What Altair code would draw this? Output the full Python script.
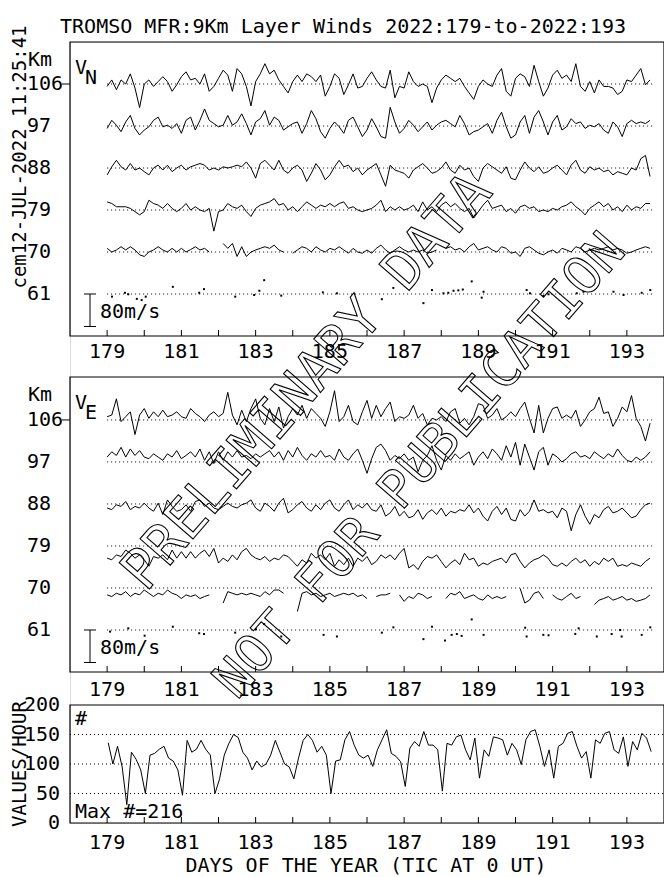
import altair as alt
import pandas as pd

# ---------------- data ----------------
START_DAY = 179.0
STEP_DAYS = 0.125          # 3-hour samples
KM_PER_MS = 0.087          # 80 m/s scale bar in km of the height axis
LEVELS = [106, 97, 88, 79, 70]

# V_N (m/s) per layer
vn106 = [-6,10,-14,10,0,25,-10,-58,0,10, -6,6,18,6,-18,-2,18,30,10,14,
         0,25,-18,-6,14,34,22,-18,38,25, -6,-54,6,25,50,25,34,10,-6,-22,
         6,22,6,25,18,6,22,-30,-6,25, 14,-26,-2,25,-10,-6,14,30,10,-6,
         -10,34,-34,-6,-10,30,6,-6,0,-6, -46,-10,10,22,14,6,14,-6,-22,-38,
         -6,10,0,-6,22,38,-18,-30,14,25, 18,-6,46,6,-30,-10,22,34,14,22,
         6,50,-6,-18,6,-22,10,-6,-6,-10, -26,-18,10,6,22,38,-2,10]
vn97 = [-6,14,2,-14,10,26,-6,-22,-10,-2, 14,22,-2,2,-6,6,-18,14,22,-10,
        14,42,14,6,-2,2,26,2,10,30, 6,-22,10,18,38,2,22,14,-10,-2,
        6,10,-18,6,38,18,-14,-30,-6,10, -2,-18,14,22,-2,-26,-10,18,-2,-26,
        -30,46,10,-18,-6,14,2,-14,-2,10, -10,2,10,14,6,-2,26,6,-22,-14,
        -10,-2,6,-18,14,34,-2,-30,-22,10, 26,-18,22,38,10,-22,10,26,-10,-2,
        18,6,10,-6,2,-2,6,-10,-18,10, -2,-26,6,14,6,10,6,14]
vn88 = [-17,3,19,3,-5,11,-5,0,-9,-17, 0,7,-5,7,-9,0,7,-5,3,7,
        11,7,-5,0,-5,3,0,3,7,3, 15,0,-25,11,19,7,-5,19,-5,-13,
        0,7,-5,-33,-13,11,-5,-29,-17,3, 19,3,7,-9,0,-17,-5,3,11,-17,
        -45,7,-5,-9,-13,-25,-5,3,11,0, -13,-9,0,15,-5,-13,7,-5,0,-21,
        -33,0,11,3,-5,-13,3,-25,-29,-5, 15,0,-9,3,-13,-9,0,7,-5,-17,
        7,19,-5,-13,3,-5,0,-9,-5,-17, -9,-13,-17,0,-5,23,31,-21]
vn79 = [20,16,8,8,8,4,-4,-12,-4,24, 16,12,4,16,4,-4,4,16,0,8,
        0,-4,4,-52,-4,0,16,8,4,12, -4,-16,4,12,16,20,28,12,16,0,
        8,-4,8,20,12,4,12,8,16,8, 16,20,4,8,0,-4,0,4,12,24,
        -4,8,0,8,0,4,12,-4,20,0, 8,-4,12,20,8,16,4,-4,4,-20,
        -4,12,24,4,8,12,-4,4,-8,8, 12,4,8,-4,0,-4,4,0,8,12,
        20,8,0,-12,4,12,20,8,16,0, 8,-4,12,0,8,4,16,16]
vn70 = [9,0,5,13,5,13,5,-7,-11,0, 5,13,5,0,9,0,9,0,6,13,
        5,9,0,None,None,21,9,21,-11,13, -11,0,5,9,13,9,17,5,0,None,
        -3,5,13,9,0,13,5,0,9,5, 13,5,-3,9,0,-3,5,-3,9,17,
        5,-3,5,13,5,0,5,0,5,-3, 0,5,None,9,13,5,9,0,13,21,
        5,9,13,5,0,13,9,-3,0,-11, 9,13,5,-3,-7,0,5,-3,9,5,
        0,13,9,0,5,9,5,9,13,5, 9,5,-3,0,5,9,13,9]

# V_E (m/s) per layer
ve106 = [8,12,52,-4,8,20,-36,12,28,4, 20,8,24,8,12,20,8,4,28,16,
         8,-4,12,20,8,16,68,12,-12,24, -4,28,52,4,-12,28,-4,32,-20,8,
         28,12,36,4,28,16,4,-16,20,72, -4,8,36,-4,-12,20,48,4,36,8,
         28,44,-4,8,4,12,36,4,16,-12, 4,0,8,-4,20,28,-8,4,-12,8,
         40,36,4,12,28,0,8,20,8,28, 44,4,-32,36,-32,4,28,32,4,12,
         4,24,-16,0,20,28,56,16,20,-16, 4,32,20,60,4,-16,-52,-8]
ve97 = [12,25,16,36,12,32,16,28,12,8, 20,12,4,20,12,28,8,16,25,12,
        32,4,25,-4,25,4,25,12,28,12, 16,8,20,12,20,28,12,25,4,28,
        12,36,16,4,20,12,28,12,16,4, 32,12,4,20,32,4,-28,8,36,44,
        28,4,16,8,20,4,12,-24,4,16, 40,4,-20,16,4,20,8,16,25,-8,
        12,25,8,32,20,4,40,12,48,-8, 44,12,-20,25,36,-8,20,12,0,8,
        20,25,12,16,8,25,16,8,20,12, 32,16,4,0,12,4,12,25]
ve88 = [-10,-14,-2,-6,6,-14,-6,-10,2,-10, -18,2,-26,10,-6,-18,-14,-2,-18,6,
        10,-6,2,-10,-14,-6,2,-6,-10,-2, 2,10,-10,-18,2,-6,-18,2,14,-22,
        -14,-2,6,-10,-18,-2,-14,2,10,-10, -18,-2,10,-14,-2,-10,2,-14,-18,-2,
        -30,-22,-6,-30,-18,-34,-30,-14,-38,-22, -14,-26,-10,-30,-18,-22,-14,-18,-2,-22,
        -10,-30,-42,-18,-6,-26,-10,-38,-42,-14, -30,-18,10,-18,-14,-22,-18,-34,-10,-18,
        -66,-26,-2,-30,-50,-26,-34,-14,-6,-22, -18,-10,-22,-34,-30,-14,-2,2]
ve79 = [-30,-34,-22,-26,-10,-18,-30,-22,-34,-50, -26,-30,-22,-34,-10,-30,-14,-30,-14,-30,
        -18,-10,-26,-6,-42,-30,-38,-22,-34,-14, -6,-22,-30,-34,-26,-38,-30,-34,-22,-26,
        -38,-50,-34,-42,-18,-30,-22,-34,-18,-50, -34,-46,-30,-50,-30,-38,-26,-46,-38,-22,
        -30,-22,-34,-18,-6,-54,-46,-58,-38,-26, -30,-22,-38,-54,-42,-34,-46,-18,-34,-30,
        -50,-42,-46,-38,-34,-30,-42,-22,-18,-38, -54,-42,-34,-30,-22,-30,-46,-50,-42,-50,
        -38,-30,-42,-34,-50,-38,-46,-30,-38,-30, -50,-46,-50,-42,-46,-50,-38,-30]
ve70 = [-17,-21,-13,-17,-9,-21,-13,-17,-5,-13, -21,-13,-17,-5,-13,-17,-26,-17,-21,-17,
        -26,-21,-17,None,None,-37,-9,-13,-17,-13, -17,-13,-17,-21,-9,-17,-5,-5,-13,None,
        None,-58,-13,-9,-17,-13,-21,-17,-13,-21, -17,-13,-17,-13,-21,-17,-26,None,-21,-17,
        -17,-13,None,-17,-33,-21,-26,-13,-17,-26, -21,None,None,-26,-13,-17,-9,-26,-21,-17,
        -26,-30,-17,-26,-21,-26,-21,None,None,-1, -37,-30,-13,-9,-26,None,-17,-26,-30,-21,
        -13,-26,-21,None,None,-41,-30,-26,-21,-30, -26,-21,-30,-26,-33,-30,-26,-17]

# isolated 61 km values (day, m/s)
vn61_days = [179.13,179.48,179.57,179.80,179.93,180.04,180.77,181.48,181.61,182.45,182.96,183.10,
             183.23,183.69,184.81,185.19,186.40,186.71,187.52,187.75,188.06,188.19,188.33,188.46,
             188.58,188.82,189.09,189.14,190.30,190.39,190.75,190.89,191.65,191.83,192.64,192.91,
             193.40,193.63]
vn61_vals = [-6.5,3,-0.7,-12,-15,-6.5,17.7,3,12,-6.5,-2.4,8,34,-4,4,1.7,-12.8,15,-22.5,9.7,1.7,3,
             8,9,11,31,-9,5.6,9.7,1.7,-4.8,-0.7,1.7,5.6,5.6,-2.4,3,9.7]
ve61_days = [179.08,179.57,180.01,180.77,181.48,181.61,182.45,183.01,183.23,183.69,184.83,185.19,
             186.40,186.71,187.52,187.75,188.10,188.28,188.42,188.55,188.82,189.14,190.26,190.30,
             190.75,190.89,191.61,191.70,192.19,192.59,192.82,192.86,193.40,193.63]
ve61_vals = [-4,4,-14,8,-8,-10,-6.5,1.7,14.5,-16,-12,-16,-6.5,6.5,-22.5,8,-26,-12,-10,-14.5,26,
             -12,5.6,-16,-12,-13,-9.7,4,-16,-10,0,-16,-12,6.5]

# values per hour
counts = [136,100,130,95,31,120,108,90,50,115, 118,125,130,110,105,90,47,140,120,125,
          140,125,115,50,75,115,135,150,145,120, 110,90,105,95,100,115,140,120,100,95,
          75,110,140,150,140,120,130,115,50,105, 107,141,155,132,115,110,115,96,124,141,
          158,118,113,104,62,127,138,130,155,132, 132,124,54,135,132,146,149,124,107,144,
          76,124,113,146,144,141,115,135,124,99, 141,155,158,130,96,124,76,130,135,152,
          155,130,110,121,76,141,135,152,155,124, 118,146,96,138,124,152,144,121]

tick_days = list(range(179, 194))
label_days = [179, 181, 183, 185, 187, 189, 191, 193]
km_labels = [106, 97, 88, 79, 70, 61]
count_levels = [50, 100, 150]
count_labels = [200, 150, 100, 50, 0]
DAY_DOMAIN = [178, 194]
KM_DOMAIN_TOP = [52, 115]
KM_DOMAIN_MID = [52, 115.2]
COUNT_DOMAIN = [0, 200]
BASE_END = 193.7
SCALE_BAR_MS = 80

FONT = "DejaVu Sans Mono"

# ---------------- build tables ----------------
def series_frame(lists):
    rows = []
    for lev, vals in zip(LEVELS, lists):
        seg = 0
        for k, v in enumerate(vals):
            if v is None:
                seg += 1
                continue
            rows.append({"day": START_DAY + k * STEP_DAYS,
                         "km": lev + v * KM_PER_MS,
                         "seg": f"{lev}-{seg}"})
    return pd.DataFrame(rows)

vn_df = series_frame([vn106, vn97, vn88, vn79, vn70])
ve_df = series_frame([ve106, ve97, ve88, ve79, ve70])
vn_dots = pd.DataFrame({"day": vn61_days, "km": [61 + v * KM_PER_MS for v in vn61_vals]})
ve_dots = pd.DataFrame({"day": ve61_days, "km": [61 + v * KM_PER_MS for v in ve61_vals]})
count_df = pd.DataFrame({"day": [START_DAY + 0.03 + k * STEP_DAYS for k in range(len(counts))],
                         "n": counts})

x_scale = alt.Scale(domain=DAY_DOMAIN, nice=False, zero=False)
X = lambda f="day": alt.X(f"{f}:Q", scale=x_scale, axis=None)


def text_layer(txt, x, y, size=20, align="left", angle=0, weight="normal", baseline="middle"):
    return alt.Chart(pd.DataFrame({"t": [txt]})).mark_text(
        font=FONT, fontSize=size, align=align, baseline=baseline, angle=angle,
        fontWeight=weight, color="black"
    ).encode(x=alt.value(x), y=alt.value(y), text="t:N")


def wind_panel(df, dots, km_domain, rng, comp, label_y, sub_dy):
    ysc = alt.Scale(domain=km_domain, range=rng, nice=False, zero=False)
    Y = lambda f: alt.Y(f"{f}:Q", scale=ysc, axis=None)
    top_px, bot_px = rng[1], rng[0]
    layers = []
    frame = pd.DataFrame({"x0": [DAY_DOMAIN[0]], "x1": [DAY_DOMAIN[1]],
                          "y0": [km_domain[0]], "y1": [km_domain[1]]})
    layers.append(alt.Chart(frame).mark_rect(fillOpacity=0, stroke="black", strokeWidth=1.2)
                  .encode(x=X("x0"), x2="x1:Q", y=Y("y0"), y2="y1:Q"))
    base = pd.DataFrame({"km": km_labels, "d0": START_DAY, "d1": BASE_END})
    layers.append(alt.Chart(base).mark_rule(strokeDash=[1, 3], strokeWidth=1, color="black")
                  .encode(x=X("d0"), x2="d1:Q", y=Y("km")))
    layers.append(alt.Chart(df).mark_line(strokeWidth=1, color="black")
                  .encode(x=X(), y=Y("km"), detail="seg:N", order="day:Q"))
    layers.append(alt.Chart(dots).mark_square(size=4, color="black", opacity=1)
                  .encode(x=X(), y=Y("km")))
    # y labels
    layers.append(alt.Chart(pd.DataFrame({"km": km_labels})).mark_text(
        font=FONT, fontSize=20, align="left", baseline="middle", color="black")
        .encode(x=alt.value(-43), y=Y("km"), text="km:Q"))
    layers.append(alt.Chart(pd.DataFrame({"km": [106]})).mark_rule(color="black")
                  .encode(x=alt.value(-8), x2=alt.value(0), y=Y("km")))
    layers.append(text_layer("Km", -42, top_px + 18))
    layers.append(text_layer("V", 5, top_px + 26))
    layers.append(text_layer(comp, 15, top_px + 26 + sub_dy))
    # scale bar
    bar = pd.DataFrame({"a": [61], "b": [61 - SCALE_BAR_MS * KM_PER_MS]})
    layers.append(alt.Chart(bar).mark_rule(color="black")
                  .encode(x=alt.value(20), y=Y("a"), y2="b:Q"))
    layers.append(alt.Chart(bar).mark_rule(color="black")
                  .encode(x=alt.value(14), x2=alt.value(26), y=Y("a")))
    layers.append(alt.Chart(bar).mark_rule(color="black")
                  .encode(x=alt.value(14), x2=alt.value(26), y=Y("b")))
    layers.append(text_layer(f"{SCALE_BAR_MS}m/s", 30, bot_px - 24))
    # x ticks + labels
    layers.append(alt.Chart(pd.DataFrame({"day": tick_days})).mark_rule(color="black")
                  .encode(x=X(), y=alt.value(bot_px - 6), y2=alt.value(bot_px)))
    layers.append(alt.Chart(pd.DataFrame({"day": label_days})).mark_text(
        font=FONT, fontSize=20, align="center", baseline="middle", color="black")
        .encode(x=X(), y=alt.value(label_y), text="day:Q"))
    return layers


layers = []
layers += wind_panel(vn_df, vn_dots, KM_DOMAIN_TOP, [294, 0], "N", 310, 10)
layers += wind_panel(ve_df, ve_dots, KM_DOMAIN_MID, [630, 335], "E", 648, 10)

# bottom panel
csc = alt.Scale(domain=COUNT_DOMAIN, range=[781, 663], nice=False, zero=False)
CY = lambda f: alt.Y(f"{f}:Q", scale=csc, axis=None)
cframe = pd.DataFrame({"x0": [DAY_DOMAIN[0]], "x1": [DAY_DOMAIN[1]],
                       "y0": [COUNT_DOMAIN[0]], "y1": [COUNT_DOMAIN[1]]})
layers.append(alt.Chart(cframe).mark_rect(fillOpacity=0, stroke="black", strokeWidth=1.2)
              .encode(x=X("x0"), x2="x1:Q", y=CY("y0"), y2="y1:Q"))
layers.append(alt.Chart(pd.DataFrame({"n": count_levels, "d0": DAY_DOMAIN[0], "d1": DAY_DOMAIN[1]}))
              .mark_rule(strokeDash=[1, 3], color="black")
              .encode(x=X("d0"), x2="d1:Q", y=CY("n")))
layers.append(alt.Chart(count_df).mark_line(strokeWidth=1, color="black")
              .encode(x=X(), y=CY("n")))
layers.append(alt.Chart(pd.DataFrame({"n": count_labels})).mark_text(
    font=FONT, fontSize=20, align="right", baseline="middle", color="black")
    .encode(x=alt.value(-10), y=CY("n"), text="n:Q"))
layers.append(alt.Chart(pd.DataFrame({"day": tick_days})).mark_rule(color="black")
              .encode(x=X(), y=alt.value(775), y2=alt.value(781)))
layers.append(alt.Chart(pd.DataFrame({"day": label_days})).mark_text(
    font=FONT, fontSize=20, align="center", baseline="middle", color="black")
    .encode(x=X(), y=alt.value(801), text="day:Q"))
layers.append(text_layer("#", 5, 677))
layers.append(text_layer("Max #=216", 5, 770))
layers.append(text_layer("VALUES/HOUR", -50, 722, size=19, align="center", angle=270))
layers.append(text_layer("DAYS OF THE YEAR (TIC AT 0 UT)", 296, 824, align="center"))

# titles
layers.append(text_layer("TROMSO MFR:9Km Layer Winds 2022:179-to-2022:193", 273, -15, align="center"))
layers.append(text_layer("cem12-JUL-2022 11:25:41", -50, 115, size=19, align="center", angle=270))

# watermark
for txt, x, y, fs in [("PRELIMINARY DATA", 237, 340, 55), ("NOT FOR PUBLICATION", 350, 424, 52)]:
    layers.append(alt.Chart(pd.DataFrame({"t": [txt]})).mark_text(
        font=FONT, fontSize=fs, align="center", baseline="middle", angle=311,
        fill="transparent", stroke="black", strokeWidth=1.1
    ).encode(x=alt.value(x), y=alt.value(y), text="t:N"))

chart = alt.layer(*layers).resolve_scale(y="independent").properties(
    width=594, height=781,
    padding={"left": 62, "top": 34, "right": 0, "bottom": 54},
    autosize=alt.AutoSizeParams(type="none"),
).configure_view(stroke=None).configure(background="white")

chart.save("out.html", embed_options={"renderer": "svg", "actions": False})
